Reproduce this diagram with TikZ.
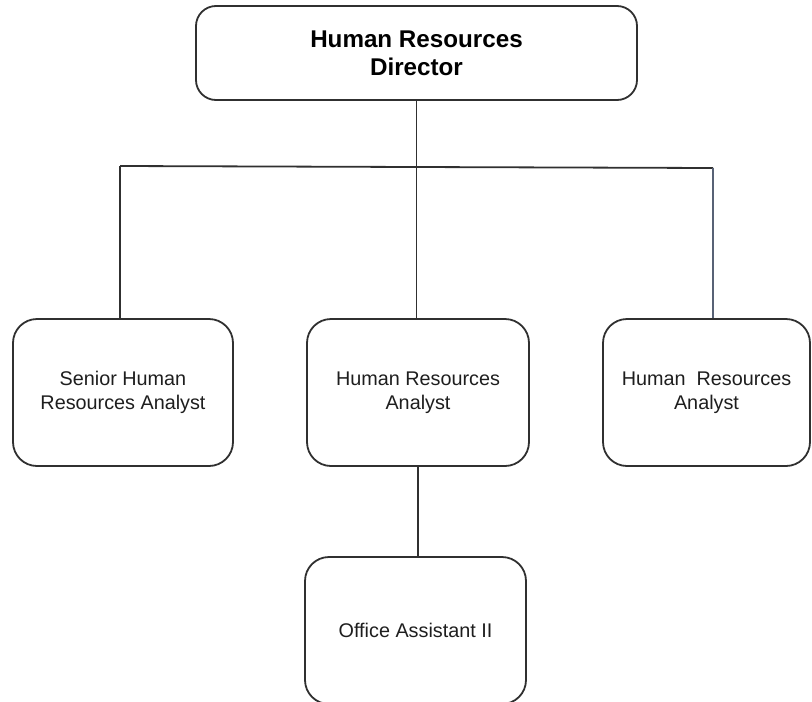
\documentclass[tikz,border=0pt]{standalone}
\usepackage{fontspec}
\setmainfont{Liberation Sans}
\begin{document}
\begin{tikzpicture}[x=1pt,y=-1pt,
  line/.style={draw={rgb,255:red,48;green,48;blue,48}, line width=1.8pt},
  box/.style={line, rounded corners=24pt, inner sep=0pt, align=center,
    text={rgb,255:red,30;green,30;blue,30},
    font=\fontsize{19.8}{24}\selectfont,
    minimum height=147pt},
  topbox/.style={box, rounded corners=20pt, text=black,
    font=\bfseries\fontsize{24.2}{28}\selectfont}]
  \useasboundingbox (0,0) rectangle (812,702);

  % boxes
  \node[topbox, minimum width=441pt, minimum height=94pt] (dir) at (416.5,53)
    {Human Resources\\Director};
  \node[box, minimum width=220pt] (sen) at (123,392.5)
    {Senior Human\\Resources Analyst};
  \node[box, minimum width=222pt] (ana1) at (418,392.5)
    {Human Resources\\Analyst};
  \node[box, minimum width=207pt] (ana2) at (706.5,392.5)
    {Human\ \ Resources\\Analyst};
  \node[box, minimum width=221pt] (oa) at (415.5,630.5)
    {Office Assistant II};

  % distribution bus
  \coordinate (busL) at (120,166);
  \coordinate (busR) at (713,168);
  \draw[line] (busL) -- (busR);

  % connectors
  \draw[line] (dir.south) -- (dir.south |- ana1.north);
  \draw[line] (busL) -- (busL |- sen.north);
  \draw[line, draw={rgb,255:red,88;green,98;blue,118}, line width=1.5pt]
    (busR) -- (busR |- ana2.north);
  \draw[line] (ana1.south) -- (ana1.south |- oa.north);
\end{tikzpicture}
\end{document}
